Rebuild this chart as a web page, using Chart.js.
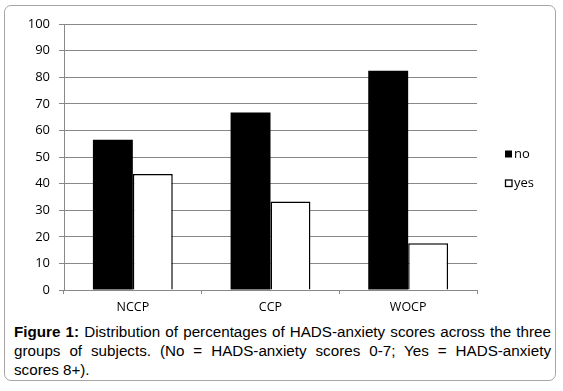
<!DOCTYPE html>
<html>
<head>
<meta charset="utf-8">
<script src="https://cdn.jsdelivr.net/npm/chart.js@4.4.0/dist/chart.umd.min.js"></script>
<style>
  html, body { margin: 0; padding: 0; background: #ffffff; }
  body { width: 563px; height: 391px; position: relative; overflow: hidden; }
  #frame { position: absolute; left: 4px; top: 5px; width: 552px; height: 376px;
           border: 1.5px solid #a6a6a6; border-radius: 7px; box-sizing: border-box; }
  #wrap { position: absolute; left: 0; top: 0; width: 563px; height: 320px; }
  #caption { position: absolute; left: 14px; top: 322px; width: 537px;
             font-family: "Liberation Sans", Arial, sans-serif; font-size: 15.2px;
             line-height: 19px; color: #000; }
  #caption .j { white-space: nowrap; text-align: justify; text-align-last: justify; }
  #caption b { font-weight: bold; }
</style>
</head>
<body>
<div id="frame"></div>
<div id="wrap"><canvas id="c" width="563" height="320"></canvas></div>
<div id="caption"><div class="j"><b>Figure 1:</b> Distribution of percentages of HADS-anxiety scores across the three</div><div class="j">groups of subjects. (No = HADS-anxiety scores 0-7; Yes = HADS-anxiety</div><div>scores 8+).</div></div>
<script>
const categories = ["NCCP", "CCP", "WOCP"];
const seriesNo = [56.5, 66.7, 82.4];
const seriesYes = [43.6, 33.3, 17.6];
const seriesLabels = ["no", "yes"];
const yTicks = [0, 10, 20, 30, 40, 50, 60, 70, 80, 90, 100];

const FONT = "'Open Sans', 'DejaVu Sans', sans-serif";

const customLegend = {
  id: 'customLegend',
  afterDraw(chart) {
    const ctx = chart.ctx;
    const ds = chart.data.datasets;
    const rows = [154, 183];
    ctx.save();
    ctx.font = "13px " + FONT;
    ctx.textBaseline = 'middle';
    ds.forEach((d, i) => {
      const y = rows[i];
      const x = 505;
      ctx.fillStyle = d.backgroundColor;
      ctx.fillRect(x, y - 3.5, 7, 7);
      if (d.borderWidth) {
        ctx.strokeStyle = d.borderColor;
        ctx.lineWidth = 1.3;
        ctx.strokeRect(x + 0.5, y - 3, 6.5, 6.5);
      }
      ctx.fillStyle = '#000';
      ctx.fillText(d.label, 514, y + 0.5);
    });
    ctx.restore();
  }
};

new Chart(document.getElementById('c'), {
  type: 'bar',
  data: {
    labels: categories,
    datasets: [
      { label: seriesLabels[0], data: seriesNo, backgroundColor: '#000000', borderWidth: 0,
        categoryPercentage: 0.58, barPercentage: 1.0 },
      { label: seriesLabels[1], data: seriesYes, backgroundColor: '#ffffff', borderColor: '#000000',
        borderWidth: 1.5, categoryPercentage: 0.58, barPercentage: 1.0 }
    ]
  },
  options: {
    responsive: false,
    animation: false,
    events: [],
    layout: { padding: { left: 0, top: 24, right: 86, bottom: 0 } },
    plugins: { legend: { display: false }, tooltip: { enabled: false } },
    scales: {
      x: {
        afterFit(s) { s.height = 30; },
        grid: { offset: true, drawOnChartArea: false, drawTicks: true, tickLength: 4,
                color: '#888888', lineWidth: 1 },
        border: { display: true, color: '#888888', width: 1 },
        ticks: { color: '#000', font: { family: FONT, size: 12.5 }, padding: 6 }
      },
      y: {
        min: 0, max: 100,
        afterFit(s) { s.width = 64; },
        afterBuildTicks(s) { s.ticks = yTicks.map(v => ({ value: v })); },
        grid: { color: '#888888', lineWidth: 1, drawTicks: true, tickLength: 5 },
        border: { display: true, color: '#888888', width: 1 },
        ticks: { color: '#000', font: { family: FONT, size: 13 }, padding: 9 }
      }
    }
  },
  plugins: [customLegend]
});
</script>
</body>
</html>
